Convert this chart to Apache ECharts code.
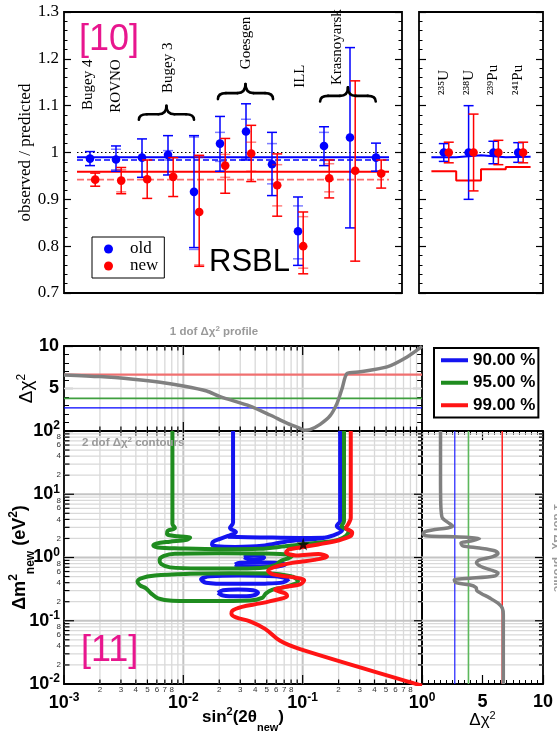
<!DOCTYPE html>
<html>
<head>
<meta charset="utf-8">
<script src="https://cdn.jsdelivr.net/npm/echarts@6/dist/echarts.min.js"></script>
<style>
  html, body { margin: 0; padding: 0; background: #fff; }
  #chart { width: 557px; height: 737px; }
</style>
</head>
<body>
<div id="chart"></div>
<script>
// ---------------- Reactor short-baseline ratios ----------------
const experiments = ['Bugey 4', 'ROVNO', 'Bugey 3', 'Bugey 3', 'Bugey 3', 'Goesgen', 'Goesgen', 'Goesgen',
                     'ILL', 'Krasnoyarsk', 'Krasnoyarsk', 'Krasnoyarsk'];
// old flux prediction
const oldRatio     = [0.987, 0.985, 0.989, 0.995, 0.916, 1.019, 1.045, 0.975, 0.832, 1.014, 1.032, 0.989];
const oldHigh      = [1.002, 1.014, 1.029, 1.036, 1.036, 1.077, 1.104, 1.043, 0.905, 1.055, 1.224, 1.020];
const oldLow       = [0.972, 0.960, 0.947, 0.952, 0.797, 0.960, 0.984, 0.908, 0.759, 0.972, 0.839, 0.960];
const oldInnerHigh = [null, 1.007, null, 1.004, 1.033, 1.043, 1.071, 1.019, 0.886, 1.043, null, null];
const oldInnerLow  = [null, 0.963, null, 0.984, 0.793, 0.981, 0.988, 0.933, 0.773, 0.983, null, null];
// new flux prediction
const newRatio     = [0.942, 0.940, 0.943, 0.948, 0.873, 0.972, 0.998, 0.930, 0.800, 0.945, 0.961, 0.955];
const newHigh      = [0.956, 0.968, 0.984, 0.989, 0.994, 1.030, 1.058, 0.997, 0.873, 0.984, 1.153, 0.984];
const newLow       = [0.928, 0.912, 0.902, 0.906, 0.757, 0.913, 0.938, 0.864, 0.741, 0.903, 0.768, 0.924];
const newInnerHigh = [null, 0.963, null, null, 0.990, 0.996, 1.022, 0.974, 0.863, 0.976, null, null];
const newInnerLow  = [null, 0.916, null, null, 0.760, 0.947, 0.960, 0.886, 0.753, 0.916, null, null];
// weighted means (solid) and correlated means (dashed)
const oldMean = 0.990, oldMeanCorr = 0.984;
const newMean = 0.959, newMeanCorr = 0.942;

// ---------------- Isotope-wise ratios ----------------
const isotopes     = ['²³⁵U', '²³⁸U', '²³⁹Pu', '²⁴¹Pu'];
const isoOld       = [1.0, 1.0, 1.0, 1.0];
const isoOldErr    = [0.019, 0.100, 0.024, 0.021];
const isoNew       = [1.0, 1.0, 1.0, 1.0];
const isoNewErr    = [0.022, 0.082, 0.026, 0.022];
const isoOldLevel  = [0.990, 0.994, 0.990, 0.991];
const isoNewLevel  = [0.960, 0.940, 0.964, 0.969];

// ---------------- Sterile fit: confidence levels ----------------
const clNames = ['90.00 %', '95.00 %', '99.00 %'];
const clChi2  = [2.71, 3.84, 6.63];

// 1 dof profile versus sin^2(2theta)
const profSin2    = [0.001, 0.002, 0.0038, 0.0064, 0.01, 0.0157, 0.0203, 0.0362, 0.0533, 0.0745, 0.0951,
                     0.105, 0.115, 0.14, 0.17, 0.194, 0.214, 0.236, 0.303, 0.51, 0.75, 1.0];
const profSin2Chi = [6.6, 6.4, 6.08, 5.73, 5.29, 4.7, 4.04, 2.93, 1.88, 0.9, 0.31,
                     0.08, 0.15, 0.78, 1.8, 3.25, 5.0, 6.77, 6.96, 7.54, 8.71, 9.95];

// 1 dof profile versus delta m^2
const profDm2    = [100, 20, 7, 5.0, 4.2, 3.46, 3.16, 2.93, 2.73, 2.58, 2.36, 2.20, 2.14, 2.08, 1.99, 1.85,
                    1.69, 1.53, 1.41, 1.28, 1.17, 1.03, 0.917, 0.83, 0.72, 0.62, 0.57, 0.51, 0.465, 0.443,
                    0.40, 0.37, 0.335, 0.30, 0.27, 0.23, 0.19, 0.158, 0.124, 0.01];
const profDm2Chi = [1.53, 1.53, 1.55, 1.6, 1.69, 2.25, 2.53, 2.11, 0.86, 0.31, 0.08, 0.31, 1.97, 3.92, 4.75, 4.2,
                    3.22, 3.36, 4.75, 6.0, 6.28, 5.86, 4.75, 4.5, 4.86, 5.86, 6.28, 6.0, 3.64, 2.67,
                    2.8, 3.92, 4.47, 4.53, 4.89, 5.58, 6.28, 6.64, 6.72, 6.72];

// best fit point [sin^2(2theta), delta m^2]
const bestFit = [0.101, 1.64];

// 2 dof contours, [sin^2(2theta), delta m^2]
const blueEdge = [[0.0261,100],[0.0261,3.53],[0.0246,2.94],[0.0276,2.54],[0.0237,2.20],[0.0203,1.97],
  [0.0177,1.77],[0.0174,1.61],[0.0190,1.50],[0.0271,1.47],[0.0457,1.53],[0.0784,1.83],[0.140,2.0],
  [0.181,2.24],[0.214,2.69],[0.193,3.16],[0.206,3.79],[0.206,4.71],[0.206,100]];
const blueBand = [[0.0237,2.12],[0.0440,2.08],[0.0951,2.04],[0.150,2.06]];
const blueIsland1 = [[0.0323,1.004],[0.0349,1.071],[0.0391,1.087],[0.0440,1.071],[0.0475,1.004],
  [0.0440,0.940],[0.0391,0.926],[0.0349,0.940],[0.0323,1.004]];
const blueIsland2 = [[0.0271,0.773],[0.0299,0.828],[0.0440,0.834],[0.0622,0.822],[0.0712,0.773],
  [0.0622,0.723],[0.0440,0.716],[0.0299,0.721],[0.0271,0.773]];
const blueIsland3 = [[0.0769,0.459],[0.0587,0.507],[0.0299,0.518],[0.01675,0.503],[0.01407,0.451],
  [0.0155,0.400],[0.0246,0.383],[0.0484,0.386],[0.0685,0.404],[0.0769,0.459]];
const blueIsland4 = [[0.0195,0.276],[0.0215,0.304],[0.0287,0.313],[0.0384,0.304],[0.0423,0.276],
  [0.0384,0.251],[0.0287,0.243],[0.0215,0.251],[0.0195,0.276]];

const greenEdge = [[0.0081,100],[0.0081,3.40],[0.0085,2.94],[0.0074,2.64],[0.0073,2.36],[0.0090,2.16],
  [0.0114,2.06],[0.0107,1.91],[0.0077,1.78],[0.0059,1.66],[0.0056,1.55],[0.0061,1.44],[0.0094,1.39],
  [0.0203,1.35],[0.0440,1.37],[0.0712,1.50],[0.105,1.63],[0.154,1.76],[0.198,1.90],[0.231,2.20],
  [0.243,2.64],[0.212,3.11],[0.222,3.79],[0.222,100]];
const greenLobe1 = [[0.0755,1.12],[0.0457,1.16],[0.0203,1.17],[0.0085,1.148],[0.00689,1.06],[0.00632,0.917],
  [0.0065,0.793],[0.00774,0.698],[0.0138,0.670],[0.0299,0.670],[0.0484,0.695],[0.0598,0.764],
  [0.0647,0.868],[0.0769,0.986],[0.0815,1.068],[0.0755,1.12]];
const greenLobe2 = [[0.0815,0.503],[0.0533,0.559],[0.0246,0.563],[0.0114,0.551],[0.00579,0.518],
  [0.00442,0.468],[0.00413,0.412],[0.00434,0.362],[0.00487,0.325],[0.00536,0.271],[0.00614,0.226],
  [0.00804,0.208],[0.01675,0.205],[0.0362,0.209],[0.0457,0.230],[0.0493,0.271],[0.0554,0.308],
  [0.0659,0.331],[0.0815,0.369],[0.0915,0.427],[0.0863,0.476],[0.0815,0.503]];

const redEdge = [[0.253,100],[0.253,4.22],[0.243,3.46],[0.231,2.94],[0.260,2.49],[0.250,2.16],[0.198,1.86],
  [0.135,1.61],[0.0951,1.44],[0.0769,1.34],[0.0726,1.20],[0.0881,1.08],[0.135,1.14],[0.160,1.04],
  [0.125,0.917],[0.0815,0.822],[0.0587,0.711],[0.0513,0.614],[0.0565,0.541],[0.0784,0.494],
  [0.103,0.435],[0.0951,0.376],[0.0712,0.343],[0.0587,0.308],[0.0712,0.271],[0.0740,0.243],
  [0.0622,0.218],[0.0440,0.188],[0.0310,0.166],[0.0256,0.143],[0.0253,0.129],[0.0276,0.113],
  [0.0362,0.098],[0.0484,0.0745],[0.0647,0.0481],[0.0951,0.0356],[0.847,0.0103],[1.0,0.0094]];

// ---------------- Styling / layout ----------------
const SERIF = '"Liberation Serif", "DejaVu Serif", serif';
const SANS = '"Liberation Sans", Arial, sans-serif';
const BLUE = '#0000ff', RED = '#ff0000', MAGENTA = '#e8168e', GREY_TXT = '#9a9a9a';
const clColors = ['#1414f0', '#1f8c1f', '#ff1414'];
const NEW_SHIFT = 0.2;          // horizontal offset of the "new" markers
const labelLayout = [           // experiment labels: [index position, value at text start]
  [0.92, 1.091], [2.0, 1.085], [4.0, 1.127], [7.0, 1.178], [9.08, 1.138], [10.5, 1.144]];
const labelText = ['Bugey 4', 'ROVNO', 'Bugey 3', 'Goesgen', 'ILL', 'Krasnoyarsk'];
const braceLayout = [           // [from, to, value at ends, value at tip]
  [2.88, 5.0, 1.070, 1.0995], [5.92, 8.04, 1.114, 1.146], [9.85, 11.99, 1.109, 1.139]];

const chart = echarts.init(document.getElementById('chart'), null, { renderer: 'canvas' });

// ---------------- helpers ----------------
function errorBars(capHalf) {
  return function (params, api) {
    const x = api.value(0);
    const c = api.coord([x, api.value(1)]);
    const lo = api.coord([x, api.value(2)])[1], hi = api.coord([x, api.value(3)])[1];
    const ilo = api.coord([x, api.value(4)])[1], ihi = api.coord([x, api.value(5)])[1];
    const color = api.visual('color');
    const solid = { stroke: color, lineWidth: 1.5 };
    const faint = { stroke: color, lineWidth: 1.5, opacity: 0.5 };
    const kids = [
      { type: 'line', shape: { x1: c[0], y1: lo, x2: c[0], y2: hi }, style: solid },
      { type: 'line', shape: { x1: c[0] - capHalf, y1: lo, x2: c[0] + capHalf, y2: lo }, style: solid },
      { type: 'line', shape: { x1: c[0] - capHalf, y1: hi, x2: c[0] + capHalf, y2: hi }, style: solid }
    ];
    if (api.value(4) !== api.value(2))
      kids.push({ type: 'line', shape: { x1: c[0] - capHalf, y1: ilo, x2: c[0] + capHalf, y2: ilo }, style: faint });
    if (api.value(5) !== api.value(3))
      kids.push({ type: 'line', shape: { x1: c[0] - capHalf, y1: ihi, x2: c[0] + capHalf, y2: ihi }, style: faint });
    kids.push({ type: 'circle', shape: { cx: c[0], cy: c[1], r: 4.3 }, style: { fill: color } });
    return { type: 'group', children: kids };
  };
}

function logValues(lo, hi) {
  const out = [];
  const d0 = Math.round(Math.log10(lo)), d1 = Math.round(Math.log10(hi));
  for (let d = d0; d <= d1; d++) {
    for (let m = 1; m <= 9; m++) {
      const v = m * Math.pow(10, d);
      if (v >= lo * 0.999 && v <= hi * 1.001) out.push({ v, m });
    }
  }
  return out;
}

// minor grid lines, log ticks and small sub-decade labels of a panel
function frame(cfg) {
  return function (params, api) {
    const xa = cfg.x[0], xb = cfg.x[1], ya = cfg.y[0], yb = cfg.y[1];
    const p0 = api.coord([xa, ya]), p1 = api.coord([xb, yb]);
    const L = p0[0], R = p1[0], B = p0[1], T = p1[1];
    const out = [];
    const gl = (x1, y1, x2, y2, major) => out.push({ type: 'line', shape: { x1, y1, x2, y2 },
      style: { stroke: major ? '#c4c4c4' : '#d9d9d9', lineWidth: major ? 2 : 1.3 } });
    const tk = (x1, y1, x2, y2) => out.push({ type: 'line', shape: { x1, y1, x2, y2 },
      style: { stroke: '#000', lineWidth: 1.2 } });
    const small = (t, x, y, align) => out.push({ type: 'text', x, y,
      style: { text: t, fontSize: 8, fontFamily: SANS, fill: '#333', align, verticalAlign: 'middle' } });
    if (cfg.xLog) {
      logValues(xa, xb).forEach(({ v, m }) => {
        const x = api.coord([v, ya])[0];
        const inner = v > xa * 1.001 && v < xb * 0.999;
        if (cfg.xGrid && inner) gl(x, T, x, B, m === 1);
        const len = m === 1 ? 9 : 4.5;
        if (cfg.xTicksBottom) tk(x, B, x, B - len);
        if (cfg.xTicksTop) tk(x, T, x, T + len);
        if (cfg.xMinorLabels && m >= 2 && m <= 8) small(String(m), x, B + 6, 'center');
      });
    }
    if (cfg.yLog) {
      logValues(ya, yb).forEach(({ v, m }) => {
        const y = api.coord([xa, v])[1];
        const inner = v > ya * 1.001 && v < yb * 0.999;
        if (cfg.yGrid && inner) gl(L, y, R, y, m === 1);
        const len = m === 1 ? 10 : 5.5;
        if (cfg.yTicksLeft) tk(L, y, L + len, y);
        if (cfg.yTicksRight) tk(R, y, R - (m === 1 ? 8 : 4), y);
        if (cfg.yMinorLabels && m % 2 === 0) small(String(m), L - 3, y, 'right');
      });
    }
    (cfg.yLines || []).forEach(v => { const y = api.coord([xa, v])[1]; gl(L, y, R, y, false); });
    return { type: 'group', children: out, silent: true };
  };
}

const powLabel = v => '{b|10}{s|' + Math.round(Math.log10(v)) + '}';
const powRich = {
  b: { fontFamily: SANS, fontWeight: 'bold', fontSize: 18, color: '#000', lineHeight: 22 },
  s: { fontFamily: SANS, fontWeight: 'bold', fontSize: 12, color: '#000', verticalAlign: 'top', lineHeight: 12 }
};
// rich styles for free-standing text elements (zrender uses "fill")
const greyRich = {
  a: { fontFamily: SANS, fontWeight: 'bold', fontSize: 11.5, fill: GREY_TXT, lineHeight: 14 },
  s: { fontFamily: SANS, fontWeight: 'bold', fontSize: 8, fill: GREY_TXT, verticalAlign: 'top', lineHeight: 8 }
};

function ratioY(index, position) {
  return {
    gridIndex: index, type: 'value', position, min: 0.7, max: 1.3, interval: 0.1,
    axisLine: { show: false }, splitLine: { show: false },
    axisTick: { inside: true, length: 7, lineStyle: { color: '#000', width: 1.2 } },
    minorTick: { show: true, splitNumber: 5, length: 3.5, lineStyle: { color: '#000', width: 1 } },
    axisLabel: { show: false }
  };
}

// ---------------- series ----------------
const series = [];

// mean levels over the experiments
const span = [0.5, experiments.length + 0.5];
[[1.0, '#000', 1, [1.5, 2.5]], [oldMean, BLUE, 2, 'solid'], [oldMeanCorr, BLUE, 1.6, [6, 3]],
 [newMean, RED, 2, 'solid'], [newMeanCorr, '#ff6b6b', 1.8, [7, 3]]].forEach(([v, col, w, type]) => {
  series.push({ type: 'line', xAxisIndex: 0, yAxisIndex: 0, data: span.map(x => [x, v]), symbol: 'none',
    silent: true, z: 2, lineStyle: { color: col, width: w, type } });
});

series.push({ name: 'old', type: 'custom', xAxisIndex: 0, yAxisIndex: 0, z: 4, itemStyle: { color: BLUE },
  renderItem: errorBars(5),
  data: oldRatio.map((v, i) => [i + 1, v, oldLow[i], oldHigh[i], oldInnerLow[i] ?? oldLow[i], oldInnerHigh[i] ?? oldHigh[i]]) });
series.push({ name: 'new', type: 'custom', xAxisIndex: 0, yAxisIndex: 0, z: 4, itemStyle: { color: RED },
  renderItem: errorBars(5),
  data: newRatio.map((v, i) => [i + 1 + NEW_SHIFT, v, newLow[i], newHigh[i], newInnerLow[i] ?? newLow[i], newInnerHigh[i] ?? newHigh[i]]) });

// experiment names
series.push({ type: 'custom', xAxisIndex: 0, yAxisIndex: 0, z: 5, silent: true,
  data: labelLayout,
  renderItem: (params, api) => {
    const p = api.coord([api.value(0), api.value(1)]);
    return { type: 'text', x: p[0], y: p[1], rotation: Math.PI / 2,
      style: { text: labelText[params.dataIndex], fontSize: 15, fontFamily: SERIF, fill: '#000', align: 'left', verticalAlign: 'middle' } };
  } });

// braces grouping multi-detector experiments
series.push({ type: 'custom', xAxisIndex: 0, yAxisIndex: 0, z: 5, silent: true,
  data: braceLayout,
  renderItem: (params, api) => {
    const a = api.coord([api.value(0), api.value(2)]);
    const b = api.coord([api.value(1), api.value(2)]);
    const t = api.coord([(api.value(0) + api.value(1)) / 2, api.value(3)]);
    const yb = a[1], yt = t[1], ym = yb - (yb - yt) * 0.4, xc = t[0], r = 8;
    const st = { stroke: '#000', lineWidth: 2.6, fill: null, lineCap: 'round' };
    const q = (x1, y1, cx, cy, x2, y2) => ({ type: 'bezierCurve', shape: { x1, y1, cpx1: cx, cpy1: cy, x2, y2 }, style: st });
    const ln = (x1, y1, x2, y2) => ({ type: 'line', shape: { x1, y1, x2, y2 }, style: st });
    return { type: 'group', children: [
      q(a[0], yb, a[0], ym, a[0] + r, ym), ln(a[0] + r, ym, xc - r, ym), q(xc - r, ym, xc, ym, xc, yt),
      q(xc, yt, xc, ym, xc + r, ym), ln(xc + r, ym, b[0] - r, ym), q(b[0] - r, ym, b[0], ym, b[0], yb)] };
  } });

// isotope panel
const isoSpan = [0.5, isotopes.length + 0.5];
series.push({ type: 'line', xAxisIndex: 1, yAxisIndex: 2, data: isoSpan.map(x => [x, 1.0]), symbol: 'none', silent: true,
  lineStyle: { color: '#000', width: 1, type: [1.5, 2.5] } });
const stepLine = lv => lv.flatMap((v, i) => [[i + 0.5, v], [i + 1.5, v]]);
series.push({ type: 'line', xAxisIndex: 1, yAxisIndex: 2, data: stepLine(isoOldLevel), symbol: 'none', silent: true,
  lineStyle: { color: BLUE, width: 2 } });
series.push({ type: 'line', xAxisIndex: 1, yAxisIndex: 2, data: stepLine(isoNewLevel), symbol: 'none', silent: true,
  lineStyle: { color: RED, width: 2 } });
series.push({ type: 'custom', xAxisIndex: 1, yAxisIndex: 2, z: 4, itemStyle: { color: BLUE }, renderItem: errorBars(5),
  data: isoOld.map((v, i) => [i + 1, v, v - isoOldErr[i], v + isoOldErr[i], v - isoOldErr[i], v + isoOldErr[i]]) });
series.push({ type: 'custom', xAxisIndex: 1, yAxisIndex: 2, z: 4, itemStyle: { color: RED }, renderItem: errorBars(5),
  data: isoNew.map((v, i) => [i + 1 + NEW_SHIFT, v, v - isoNewErr[i], v + isoNewErr[i], v - isoNewErr[i], v + isoNewErr[i]]) });
series.push({ type: 'custom', xAxisIndex: 1, yAxisIndex: 2, z: 5, silent: true,
  data: isotopes.map((n, i) => [i + 1, 1.123]),
  renderItem: (params, api) => {
    const p = api.coord([api.value(0), api.value(1)]);
    return { type: 'text', x: p[0], y: p[1], rotation: Math.PI / 2,
      style: { text: isotopes[params.dataIndex], fontSize: 15, fontFamily: SERIF, fill: '#000', align: 'left', verticalAlign: 'middle' } };
  } });

// panel decorations (grid lines and log ticks)
series.push({ type: 'custom', xAxisIndex: 2, yAxisIndex: 4, z: 1, silent: true, data: [[0.001, 0]],
  renderItem: frame({ x: [0.001, 1], y: [0, 10], xLog: true, xGrid: true, xTicksTop: true, xTicksBottom: true, yLines: [5] }) });
series.push({ type: 'custom', xAxisIndex: 3, yAxisIndex: 6, z: 1, silent: true, data: [[0.001, 0.01]],
  renderItem: frame({ x: [0.001, 1], y: [0.01, 100], xLog: true, yLog: true, xGrid: true, yGrid: true,
    xTicksTop: true, xTicksBottom: true, yTicksLeft: true, yTicksRight: true, xMinorLabels: true, yMinorLabels: true }) });
series.push({ type: 'custom', xAxisIndex: 4, yAxisIndex: 7, z: 1, silent: true, data: [[0, 0.01]],
  renderItem: frame({ x: [0, 10], y: [0.01, 100], yLog: true, yGrid: true, yTicksRight: true }) });

// confidence-level thresholds on both profiles
const thrTop = [{ c: '#0000ff', w: 1.3 }, { c: '#3f9f3f', w: 1.7 }, { c: '#f07070', w: 2.2 }];
const thrSide = [{ c: '#2020ff', w: 1.2 }, { c: '#5cb85c', w: 1.6 }, { c: '#ff2020', w: 1.5 }];
clChi2.forEach((t, i) => {
  series.push({ type: 'line', xAxisIndex: 2, yAxisIndex: 4, z: 2, silent: true, symbol: 'none',
    data: [[0.001, t], [1, t]], lineStyle: { color: thrTop[i].c, width: thrTop[i].w } });
  series.push({ type: 'line', xAxisIndex: 4, yAxisIndex: 7, z: 2, silent: true, symbol: 'none',
    data: [[t, 0.01], [t, 100]], lineStyle: { color: thrSide[i].c, width: thrSide[i].w } });
});

// 1 dof profiles
series.push({ type: 'line', xAxisIndex: 2, yAxisIndex: 4, z: 4, silent: true, symbol: 'none', smooth: 0.25,
  data: profSin2.map((s, i) => [s, profSin2Chi[i]]), lineStyle: { color: '#808080', width: 3.5 } });
series.push({ type: 'line', xAxisIndex: 4, yAxisIndex: 7, z: 4, silent: true, symbol: 'none', smooth: 0.3,
  data: profDm2.map((d, i) => [profDm2Chi[i], d]), lineStyle: { color: '#808080', width: 3.5 } });

// 2 dof contours
const contourSets = [
  [clNames[0], clColors[0], [blueEdge, blueBand, blueIsland1, blueIsland2, blueIsland3, blueIsland4]],
  [clNames[1], clColors[1], [greenEdge, greenLobe1, greenLobe2]],
  [clNames[2], clColors[2], [redEdge]]
];
contourSets.forEach(([name, color, parts]) => {
  parts.forEach(pts => {
    series.push({ name, type: 'line', xAxisIndex: 3, yAxisIndex: 6, z: 3, silent: true, symbol: 'none',
      smooth: 0.35, data: pts, itemStyle: { color }, lineStyle: { color, width: 4 } });
  });
});
series.push({ type: 'scatter', xAxisIndex: 3, yAxisIndex: 6, z: 6, silent: true, data: [bestFit],
  symbol: 'path://M50,0 L61,35 L98,35 L68,57 L79,91 L50,70 L21,91 L32,57 L2,35 L39,35 Z',
  symbolSize: 13, itemStyle: { color: '#000' } });

// ---------------- option ----------------
const frameGrid = g => Object.assign({ show: true, borderColor: '#000', borderWidth: 1.8, backgroundColor: 'transparent',
  containLabel: false, outerBoundsMode: 'none' }, g);

const option = {
  animation: false,
  backgroundColor: '#fff',
  textStyle: { fontFamily: SANS },
  grid: [
    frameGrid({ left: 64, top: 12, width: 338, height: 281 }),
    frameGrid({ left: 419, top: 12, width: 124, height: 281 }),
    frameGrid({ left: 64, top: 346, width: 358, height: 85 }),
    frameGrid({ left: 64, top: 431, width: 358, height: 253 }),
    frameGrid({ left: 422, top: 431, width: 121, height: 253 })
  ],
  xAxis: [
    { gridIndex: 0, type: 'value', min: 0, max: experiments.length + 1, show: false },
    { gridIndex: 1, type: 'value', min: 0, max: isotopes.length + 1, show: false },
    { gridIndex: 2, type: 'log', logBase: 10, min: 0.001, max: 1, axisLine: { show: false }, axisTick: { show: false },
      axisLabel: { show: false }, splitLine: { show: false } },
    { gridIndex: 3, type: 'log', logBase: 10, min: 0.001, max: 1, axisLine: { show: false }, axisTick: { show: false },
      splitLine: { show: false }, axisLabel: { formatter: powLabel, rich: powRich, margin: 8 },
      name: '{b|sin}{s|2}{b|(2θ}{u|new}{b|)}', nameLocation: 'middle', nameGap: 22, nameMoveOverlap: false,
      nameTextStyle: { rich: {
        b: { fontFamily: SANS, fontWeight: 'bold', fontSize: 17, color: '#000', lineHeight: 22 },
        s: { fontFamily: SANS, fontWeight: 'bold', fontSize: 11, color: '#000', verticalAlign: 'top', lineHeight: 11 },
        u: { fontFamily: SANS, fontWeight: 'bold', fontSize: 11, color: '#000', verticalAlign: 'bottom', lineHeight: 11, padding: [0, 0, -5, 0] } } } },
    { gridIndex: 4, type: 'value', min: 0, max: 10, interval: 5, axisLine: { show: false }, splitLine: { show: false },
      axisTick: { inside: true, length: 9, lineStyle: { color: '#000', width: 1.2 } },
      minorTick: { show: true, splitNumber: 10, length: 4, lineStyle: { color: '#000' } },
      axisLabel: { formatter: v => (v === 0 ? '' : String(v)), fontFamily: SANS, fontWeight: 'bold', fontSize: 18, color: '#000', margin: 9 },
      name: '{a|Δχ}{s|2}', nameLocation: 'middle', nameGap: 26, nameMoveOverlap: false,
      nameTextStyle: { rich: {
        a: { fontFamily: SANS, fontSize: 17, color: '#000', lineHeight: 20 },
        s: { fontFamily: SANS, fontSize: 11, color: '#000', verticalAlign: 'top', lineHeight: 11 } } } },
    { gridIndex: 4, type: 'value', position: 'top', min: 0, max: 10, interval: 5, axisLine: { show: false },
      splitLine: { show: false }, axisLabel: { show: false },
      axisTick: { inside: true, length: 9, lineStyle: { color: '#000', width: 1.2 } },
      minorTick: { show: true, splitNumber: 10, length: 4, lineStyle: { color: '#000' } } }
  ],
  yAxis: [
    Object.assign(ratioY(0, 'left'), {
      axisLabel: { fontFamily: SERIF, fontSize: 17, color: '#000', margin: 5, formatter: v => String(Math.round(v * 10) / 10) },
      name: 'observed / predicted', nameLocation: 'middle', nameGap: 30, nameMoveOverlap: false,
      nameTextStyle: { fontFamily: SERIF, fontSize: 17, color: '#000' } }),
    ratioY(0, 'right'),
    ratioY(1, 'left'),
    ratioY(1, 'right'),
    { gridIndex: 2, type: 'value', position: 'left', min: 0, max: 10, interval: 5, axisLine: { show: false }, splitLine: { show: false },
      axisTick: { inside: true, length: 9, lineStyle: { color: '#000', width: 1.2 } },
      minorTick: { show: true, splitNumber: 5, length: 5, lineStyle: { color: '#000' } },
      axisLabel: { formatter: v => (v === 0 ? '' : String(v)), fontFamily: SANS, fontWeight: 'bold', fontSize: 18, color: '#000', margin: 5 },
      name: '{a|Δχ}{s|2}', nameLocation: 'middle', nameGap: 26, nameMoveOverlap: false,
      nameTextStyle: { rich: {
        a: { fontFamily: SANS, fontSize: 19, color: '#000', lineHeight: 22 },
        s: { fontFamily: SANS, fontSize: 12, color: '#000', verticalAlign: 'top', lineHeight: 12 } } } },
    { gridIndex: 2, type: 'value', position: 'right', min: 0, max: 10, interval: 5, axisLine: { show: false }, splitLine: { show: false },
      axisTick: { inside: true, length: 9, lineStyle: { color: '#000', width: 1.2 } },
      minorTick: { show: true, splitNumber: 5, length: 5, lineStyle: { color: '#000' } }, axisLabel: { show: false } },
    { gridIndex: 3, type: 'log', logBase: 10, min: 0.01, max: 100, axisLine: { show: false }, axisTick: { show: false },
      splitLine: { show: false }, axisLabel: { formatter: powLabel, rich: powRich, margin: 4 },
      name: '{b|Δm}{s|2}{u|new}{b| (eV}{s|2}{b|)}', nameLocation: 'middle', nameGap: 32, nameMoveOverlap: false,
      nameTextStyle: { rich: {
        b: { fontFamily: SANS, fontWeight: 'bold', fontSize: 18, color: '#000', lineHeight: 24 },
        s: { fontFamily: SANS, fontWeight: 'bold', fontSize: 12, color: '#000', verticalAlign: 'top', lineHeight: 12 },
        u: { fontFamily: SANS, fontWeight: 'bold', fontSize: 12, color: '#000', verticalAlign: 'bottom', lineHeight: 12, padding: [0, 0, -5, 0] } } } },
    { gridIndex: 4, type: 'log', logBase: 10, min: 0.01, max: 100, axisLine: { show: false }, axisTick: { show: false },
      splitLine: { show: false }, axisLabel: { show: false } }
  ],
  legend: [
    { data: ['old', 'new'], orient: 'vertical', left: 92, top: 237, itemGap: 0, itemWidth: 9, itemHeight: 9, icon: 'circle',
      padding: [3.5, 6, 3.5, 12], borderColor: '#000', borderWidth: 1, backgroundColor: '#fff',
      textStyle: { fontFamily: SERIF, fontSize: 17, color: '#000', lineHeight: 14.6, padding: [0, 0, 0, 12] }, selectedMode: false },
    { data: clNames, orient: 'vertical', left: 434, top: 348, itemGap: 0, itemWidth: 27, itemHeight: 4, icon: 'rect',
      padding: [1, 3, 1, 7], borderColor: '#000', borderWidth: 2, backgroundColor: '#fff',
      textStyle: { fontFamily: SANS, fontWeight: 'bold', fontSize: 17, color: '#000', lineHeight: 22.5 }, selectedMode: false }
  ],
  graphic: [
    { type: 'text', x: 79, y: 40, z: 50, style: { text: '[10]', fontSize: 36, fontFamily: SANS, fill: MAGENTA, align: 'left', verticalAlign: 'middle' } },
    { type: 'text', x: 81, y: 651, z: 50, style: { text: '[11]', fontSize: 36, fontFamily: SANS, fill: MAGENTA, align: 'left', verticalAlign: 'middle' } },
    { type: 'text', x: 209, y: 262, z: 50, style: { text: 'RSBL', fontSize: 31, fontFamily: SANS, fill: '#000', align: 'left', verticalAlign: 'middle' } },
    { type: 'text', x: 214, y: 332, z: 50, style: { text: '{a|1 dof Δχ}{s|2}{a| profile}', rich: greyRich, fill: GREY_TXT, align: 'center', verticalAlign: 'middle' } },
    { type: 'text', x: 82, y: 443, z: 50, style: { text: '{a|2 dof Δχ}{s|2}{a| contours}', rich: greyRich, fill: GREY_TXT, align: 'left', verticalAlign: 'middle' } },
    { type: 'text', x: 557, y: 548, z: 50, rotation: -Math.PI / 2, style: { text: '{a|1 dof Δχ}{s|2}{a| profile}', rich: greyRich, fill: GREY_TXT, align: 'center', verticalAlign: 'middle' } }
  ],
  series
};

chart.setOption(option);
</script>
</body>
</html>
